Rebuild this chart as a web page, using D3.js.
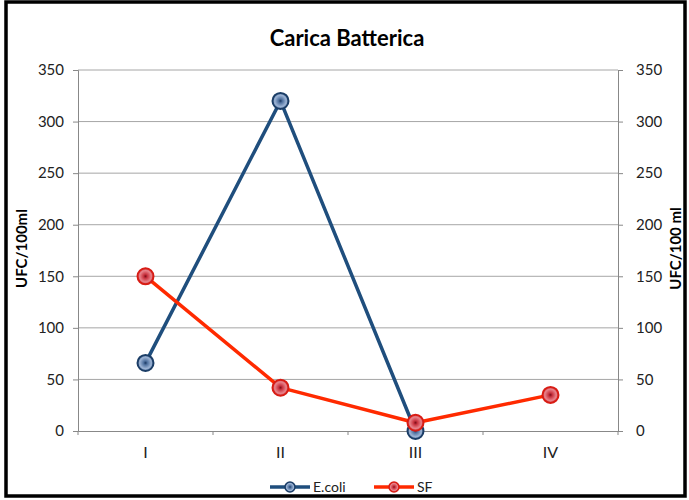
<!DOCTYPE html>
<html>
<head>
<meta charset="utf-8">
<script src="https://cdn.jsdelivr.net/npm/d3@7"></script>
<style>
  body { margin: 0; background: #fff; }
  svg { display: block; font-family: Lato, "Liberation Sans", sans-serif; }
</style>
</head>
<body>
<div id="chart"></div>
<script>
// categories and series
const categories = ["I", "II", "III", "IV"];
const ecoli = [66, 320, 0, null];
const sf = [150, 42, 8, 35];
const yTicks = [0, 50, 100, 150, 200, 250, 300, 350];

const W = 689, H = 500;
const margin = {top: 70, right: 71, bottom: 69, left: 78};
const width = W - margin.left - margin.right;
const height = H - margin.top - margin.bottom;

const svg = d3.select("#chart").append("svg")
  .attr("width", W).attr("height", H);

// outer frame
svg.append("rect")
  .attr("x", 6).attr("y", 2).attr("width", 679).attr("height", 494)
  .attr("fill", "#fff").attr("stroke", "#000").attr("stroke-width", 3.5);

const defs = svg.append("defs");
function grad(id, light, mid, dark) {
  const g = defs.append("radialGradient").attr("id", id)
    .attr("cx", "50%").attr("cy", "50%").attr("r", "55%");
  g.append("stop").attr("offset", "0%").attr("stop-color", dark);
  g.append("stop").attr("offset", "22%").attr("stop-color", mid);
  g.append("stop").attr("offset", "65%").attr("stop-color", light);
  g.append("stop").attr("offset", "100%").attr("stop-color", mid);
}
grad("gBlue", "#9cb3d4", "#4f719f", "#1a3760");
grad("gRed", "#e8838b", "#c8323e", "#7a0c18");

const series = [
  {name: "E.coli", values: ecoli, color: "#1f4e7d", fill: "url(#gBlue)", mstroke: "#1b3d66"},
  {name: "SF", values: sf, color: "#ff2a00", fill: "url(#gRed)", mstroke: "#d81c14"}
];

const g = svg.append("g").attr("transform", `translate(${margin.left},${margin.top})`);

const x = d3.scaleBand().domain(categories).range([0, width]);
const y = d3.scaleLinear().domain([0, 350]).range([height, 0]);

// gridlines
g.selectAll(".grid").data(yTicks.filter(d => d > 0)).enter().append("line")
  .attr("x1", 0).attr("x2", width)
  .attr("y1", d => y(d)).attr("y2", d => y(d))
  .attr("stroke", "#a6a6a6").attr("stroke-width", 1);

// left axis
const yAxisL = d3.axisLeft(y).tickValues(yTicks).tickSize(5).tickPadding(9);
const gl = g.append("g").call(yAxisL);
// right axis
const yAxisR = d3.axisRight(y).tickValues(yTicks).tickSize(5).tickPadding(13);
const gr = g.append("g").attr("transform", `translate(${width},0)`).call(yAxisR);

// bottom axis: ticks between categories
const xAxis = d3.axisBottom(x).tickSize(0).tickPadding(16);
const gx = g.append("g").attr("transform", `translate(0,${height})`).call(xAxis);
gx.selectAll(".bnd").data(d3.range(categories.length + 1)).enter().append("line")
  .attr("x1", i => i * x.step()).attr("x2", i => i * x.step())
  .attr("y1", 0).attr("y2", 4).attr("stroke", "#888");

[gl, gr, gx].forEach(a => {
  a.select(".domain").attr("stroke", "#888");
  a.selectAll(".tick line").attr("stroke", "#888");
  a.selectAll("text").attr("fill", "#222").style("font-size", "15px")
    .style("font-family", "Lato, 'Liberation Sans', sans-serif");
});
gx.selectAll("text").style("font-size", "16px");

// lines and markers
const line = d3.line()
  .defined(d => d.v != null)
  .x(d => x(d.c) + x.bandwidth() / 2)
  .y(d => y(d.v));

series.forEach(s => {
  const pts = categories.map((c, i) => ({c: c, v: s.values[i]}));
  g.append("path").datum(pts)
    .attr("d", line).attr("fill", "none")
    .attr("stroke", s.color).attr("stroke-width", 3.5)
    .attr("stroke-linejoin", "round");
});
series.forEach(s => {
  const pts = categories.map((c, i) => ({c: c, v: s.values[i]})).filter(d => d.v != null);
  g.selectAll(null).data(pts).enter().append("circle")
    .attr("cx", d => x(d.c) + x.bandwidth() / 2)
    .attr("cy", d => y(d.v))
    .attr("r", 8)
    .attr("fill", s.fill).attr("stroke", s.mstroke).attr("stroke-width", 2);
});

// title
svg.append("text").text("Carica Batterica")
  .attr("x", 347).attr("y", 46).attr("text-anchor", "middle")
  .style("font-size", "22px").style("font-weight", "700");

// axis titles
svg.append("text").text("UFC/100ml")
  .attr("transform", `translate(27,${margin.top + height / 2 - 2}) rotate(-90)`)
  .attr("text-anchor", "middle").style("font-size", "15px").style("font-weight", "700");
svg.append("text").text("UFC/100 ml")
  .attr("transform", `translate(681,${margin.top + height / 2 - 2}) rotate(-90)`)
  .attr("text-anchor", "middle").style("font-size", "15px").style("font-weight", "700");

// legend
const legend = svg.append("g").attr("transform", "translate(270,487)");
const items = legend.selectAll(".legend-item").data(series).enter().append("g")
  .attr("transform", (d, i) => `translate(${i * 104},0)`);
items.append("line").attr("x1", 0).attr("x2", 40).attr("y1", 0).attr("y2", 0)
  .attr("stroke", d => d.color).attr("stroke-width", 3.5);
items.append("circle").attr("cx", 20).attr("cy", 0).attr("r", 5)
  .attr("fill", d => d.fill).attr("stroke", d => d.mstroke).attr("stroke-width", 1.5);
items.append("text").attr("x", 43).attr("y", 5).text(d => d.name)
  .style("font-size", "14px").attr("fill", "#222");
</script>
</body>
</html>
